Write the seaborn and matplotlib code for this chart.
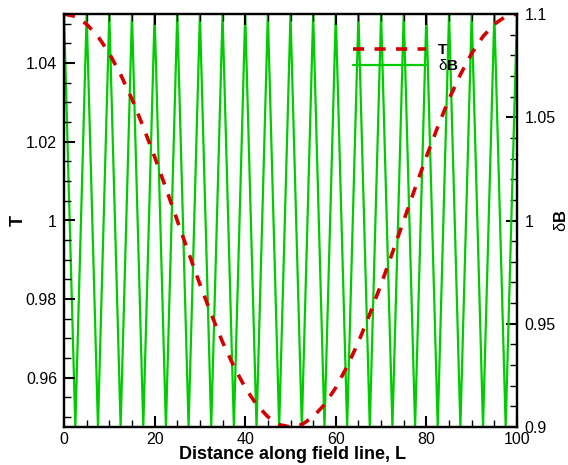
import matplotlib
matplotlib.use("Agg")
import matplotlib.pyplot as plt
from matplotlib.ticker import MultipleLocator, FormatStrFormatter
import seaborn as sns
import pandas as pd

# Position along the field line
distance = [0, 2.5, 5, 7.5, 10, 12.5, 15, 17.5, 20, 22.5,
            25, 27.5, 30, 32.5, 35, 37.5, 40, 42.5, 45, 47.5,
            50, 52.5, 55, 57.5, 60, 62.5, 65, 67.5, 70, 72.5,
            75, 77.5, 80, 82.5, 85, 87.5, 90, 92.5, 95, 97.5, 100]

# Temperature profile (left axis)
temperature = [1.0525, 1.0519, 1.0499, 1.0468, 1.0425, 1.0371, 1.0309, 1.0238, 1.0162, 1.0082,
               1.0000, 0.9918, 0.9838, 0.9762, 0.9691, 0.9629, 0.9575, 0.9532, 0.9501, 0.9481,
               0.9475, 0.9481, 0.9501, 0.9532, 0.9575, 0.9629, 0.9691, 0.9762, 0.9838, 0.9918,
               1.0000, 1.0082, 1.0162, 1.0238, 1.0309, 1.0371, 1.0425, 1.0468, 1.0499, 1.0519,
               1.0525]

# Field perturbation (right axis)
delta_b = [1.1, 0.9, 1.1, 0.9, 1.1, 0.9, 1.1, 0.9, 1.1, 0.9,
           1.1, 0.9, 1.1, 0.9, 1.1, 0.9, 1.1, 0.9, 1.1, 0.9,
           1.1, 0.9, 1.1, 0.9, 1.1, 0.9, 1.1, 0.9, 1.1, 0.9,
           1.1, 0.9, 1.1, 0.9, 1.1, 0.9, 1.1, 0.9, 1.1, 0.9,
           1.1]

df = pd.DataFrame({"L": distance, "T": temperature, "dB": delta_b})

sns.set_theme(style="white")
plt.rcParams.update({
    "font.family": ["Liberation Sans", "DejaVu Sans"],
    "mathtext.fontset": "custom",
    "mathtext.rm": "Liberation Sans",
    "mathtext.it": "Liberation Sans:italic",
    "mathtext.bf": "Liberation Sans:bold",
    "text.color": "black",
    "axes.labelcolor": "black",
    "axes.edgecolor": "black",
    "xtick.color": "black",
    "ytick.color": "black",
    "lines.scale_dashes": False,
})

fig = plt.figure(figsize=(5.68, 4.65), dpi=100)
ax = fig.add_axes([64 / 568, 1 - 427 / 465, 453 / 568, 413 / 465])
ax2 = ax.twinx()

red = "#d40000"
green = "#00cc00"

sns.lineplot(data=df, x="L", y="dB", ax=ax2, color=green, linewidth=1.6,
             label=r"$\mathrm{\delta}$B", legend=False)
sns.lineplot(data=df, x="L", y="T", ax=ax, color=red, linewidth=2.6,
             linestyle=(0, (8, 7.5)), dash_capstyle="butt", label="T", legend=False)

# draw the temperature curve above the field curve
ax.set_zorder(ax2.get_zorder() + 1)
ax.patch.set_visible(False)

ax.set_xlim(0, 100)
ax.set_ylim(0.9475, 1.0525)
ax2.set_ylim(0.9, 1.1)

ax.xaxis.set_major_locator(MultipleLocator(20))
ax.xaxis.set_minor_locator(MultipleLocator(5))
ax.yaxis.set_major_locator(MultipleLocator(0.02))
ax.yaxis.set_minor_locator(MultipleLocator(0.005))
ax2.yaxis.set_major_locator(MultipleLocator(0.05))
ax2.yaxis.set_minor_locator(MultipleLocator(0.01))
for axis in (ax.xaxis, ax.yaxis, ax2.yaxis):
    axis.set_major_formatter(FormatStrFormatter("%g"))

ax.tick_params(axis="x", which="both", direction="in", top=True, bottom=True, pad=3.5)
ax.tick_params(axis="y", which="both", direction="in", left=True, right=False, pad=5)
ax2.tick_params(axis="y", which="both", direction="in", right=True, left=False, pad=5.5)
for a in (ax, ax2):
    a.tick_params(which="major", length=8, width=1.5, labelsize=11.5)
    a.tick_params(which="minor", length=5, width=1.0)
    for s in a.spines.values():
        s.set_linewidth(1.6)
        s.set_color("black")

ax.set_xlabel("Distance along field line, L", fontsize=13, fontweight="bold")
ax.set_ylabel("T", fontsize=13, fontweight="bold")
ax2.set_ylabel(r"$\mathrm{\delta}$B", fontsize=12, fontweight="bold")
ax.xaxis.set_label_coords(0.505, -0.046)
ax.yaxis.set_label_coords(-0.082, 0.5)
ax2.yaxis.set_label_coords(1.079, 0.5)

h1, l1 = ax.get_legend_handles_labels()
h2, l2 = ax2.get_legend_handles_labels()
ax.legend(h1 + h2, l1 + l2, loc="upper left", bbox_to_anchor=(0.638, 0.930),
          frameon=False, borderpad=0, borderaxespad=0, handlelength=4.8,
          handletextpad=0.78, labelspacing=0.1,
          prop={"weight": "bold", "size": 11})

fig.savefig("out.png", dpi=100, facecolor="white")
